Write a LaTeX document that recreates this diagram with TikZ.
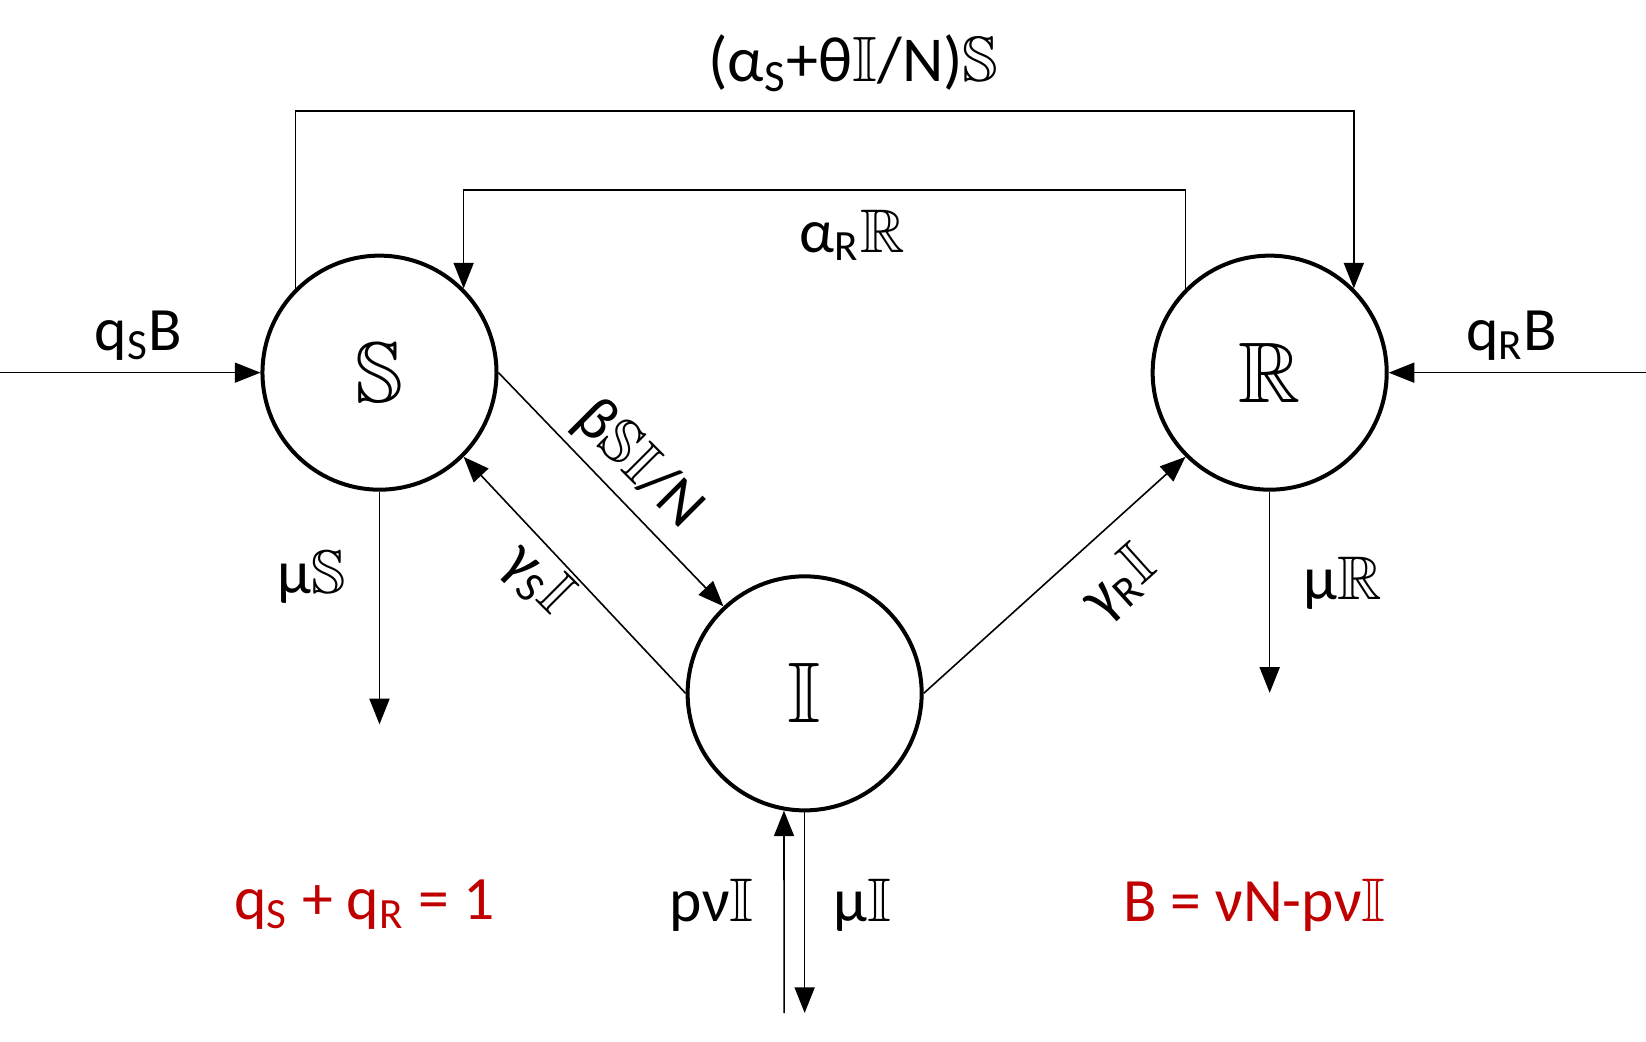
\documentclass[tikz,border=0pt]{standalone}
\usepackage{amssymb}
\usepackage{fontspec}
\setmainfont{Carlito}
\usetikzlibrary{arrows.meta}
\definecolor{darkred}{RGB}{192,0,0}
\newcommand{\dbl}[1]{\ensuremath{\mathbb{#1}}}
\tikzset{
  compartment/.style={draw,circle,line width=1pt,minimum size=58.5pt,inner sep=0pt,font=\fontsize{21.5}{25}\selectfont},
  flow/.style={->,line width=0.4pt},
  rate/.style={font=\fontsize{15.4}{18}\selectfont,inner sep=1pt},
}
\begin{document}
\begin{tikzpicture}[x=0.2624pt,y=-0.2624pt,>={Triangle[length=6.4pt,width=5pt]}]
  \useasboundingbox (0,0) rectangle (1568,992.6);
  \node[compartment] (S) at (361.5,355) {\dbl{S}};
  \node[compartment] (R) at (1209.5,355) {\dbl{R}};
  \node[compartment] (I) at (766.5,660.5) {\dbl{I}};
  % free ends
  \coordinate (inS) at (0,355);
  \coordinate (inR) at (1568,355);
  \coordinate (top) at (0,106);
  \coordinate (mid) at (0,181);
  \coordinate (outS) at (361.5,690);
  \coordinate (outR) at (1209.5,660);
  \coordinate (inI) at (747,965);
  \coordinate (outI) at (766.5,965);
  % flows
  \draw[flow] (S.135) -- (S.135 |- top) -| (R.45);
  \draw[flow] (R.135) -- (R.135 |- mid) -| (S.45);
  \draw[flow] (inS) -- (S.west);
  \draw[flow] (inR) -- (R.east);
  \draw[flow] (S.east) -- (I.133);
  \draw[flow] (I.west) -- (S.-45);
  \draw[flow] (I.east) -- (R.-135);
  \draw[flow] (S.south) -- (outS);
  \draw[flow] (R.south) -- (outR);
  \draw[flow] (inI) -- (I.-100);
  \draw[flow] (I.south) -- (outI);
  % rates
  \node[rate,font=\fontsize{16}{19}\selectfont] (rSR) at (813,60) {(α\textsubscript{S}+θ\dbl{I}/N)\dbl{S}};
  \node[rate] (rRS) at (812,224) {α\textsubscript{R}\dbl{R}};
  \node[rate] (rinS) at (132,320) {q\textsubscript{S}B};
  \node[rate] (rinR) at (1440,320) {q\textsubscript{R}B};
  \node[rate,rotate=-45] (rSI) at (608,443) {β\dbl{S}\dbl{I}/N};
  \node[rate,rotate=-45] (rIS) at (512,552) {γ\textsubscript{S}\dbl{I}};
  \node[rate,rotate=42] (rIR) at (1067,556) {γ\textsubscript{R}\dbl{I}};
  \node[rate] (routS) at (297,550) {μ\dbl{S}};
  \node[rate] (routR) at (1279,556) {μ\dbl{R}};
  \node[rate] (rinI) at (678,862) {pν\dbl{I}};
  \node[rate] (routI) at (822,862) {μ\dbl{I}};
  % constraints
  \node[rate,text=darkred] (sumq) at (347,862) {q\textsubscript{S} + q\textsubscript{R} = 1};
  \node[rate,text=darkred] (birth) at (1195,862) {B = νN-pν\dbl{I}};
\end{tikzpicture}
\end{document}
